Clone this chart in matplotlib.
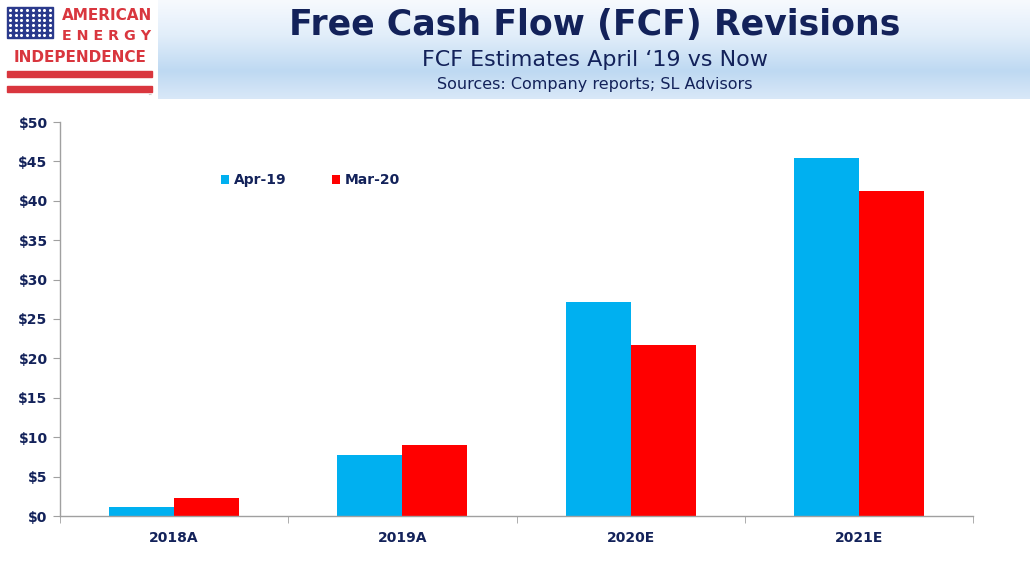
import numpy as np
import matplotlib
matplotlib.use("Agg")
import matplotlib.pyplot as plt
from matplotlib.patches import Rectangle
from matplotlib.colors import LinearSegmentedColormap

# ---- data ----
categories = ["2018A", "2019A", "2020E", "2021E"]
apr19 = [1.1, 7.75, 27.1, 45.4]
mar20 = [2.25, 9.0, 21.7, 41.2]
series_labels = ["Apr-19", "Mar-20"]
yticks = [0, 5, 10, 15, 20, 25, 30, 35, 40, 45, 50]
ytick_labels = ["$" + str(v) for v in yticks]
title = "Free Cash Flow (FCF) Revisions"
subtitle = "FCF Estimates April \u201819 vs Now"
sources = "Sources: Company reports; SL Advisors"

NAVY = "#13225a"
BLUE = "#00b0f0"
RED = "#ff0000"
LOGO_RED = "#d9363e"

W, H = 1030, 579
fig = plt.figure(figsize=(W / 100, H / 100), dpi=100)
fig.patch.set_facecolor("white")

# ---- header gradient band ----
hdr = fig.add_axes([0, 1 - 99 / H, 1, 99 / H])
hdr.set_axis_off()
cmap = LinearSegmentedColormap.from_list(
    "hdr", [(0.0, "#f7fafe"), (0.35, "#e2eefa"), (0.72, "#bed9f2"), (1.0, "#d9e8f8")])
grad = np.linspace(0, 1, 200).reshape(-1, 1)
hdr.imshow(grad, aspect="auto", cmap=cmap, extent=[0, 1, 0, 1], origin="upper")
hdr.set_xlim(0, 1)
hdr.set_ylim(0, 1)

# ---- logo ----
logo = fig.add_axes([0, 1 - 99 / H, 158 / W, 99 / H])
logo.set_xlim(0, 158)
logo.set_ylim(99, 0)
logo.set_axis_off()
logo.add_patch(Rectangle((0, 0), 158, 99, color="white", zorder=0))
logo.add_patch(Rectangle((7, 7), 46, 31, color="#2b3a8c", zorder=1))
sx, sy = np.meshgrid(np.linspace(10, 50, 8), np.linspace(10, 35, 6))
logo.scatter(sx.ravel(), sy.ravel(), s=1.5, color="white", zorder=2)
logo.text(107, 16, "AMERICAN", color=LOGO_RED, fontsize=11, ha="center",
          va="center", fontweight="bold")
logo.text(107, 36, "E N E R G Y", color=LOGO_RED, fontsize=10.3, ha="center",
          va="center", fontweight="bold")
logo.text(80, 57, "INDEPENDENCE", color=LOGO_RED, fontsize=11, ha="center",
          va="center", fontweight="bold")
logo.add_patch(Rectangle((7, 71), 145, 6, color=LOGO_RED, zorder=1))
logo.add_patch(Rectangle((7, 86), 145, 6, color=LOGO_RED, zorder=1))
logo.text(149, 96, "\u2122", color="#888888", fontsize=3, ha="center", va="center")

# ---- titles ----
fig.text(595 / W, 1 - 25 / H, title, ha="center", va="center", fontsize=25,
         fontweight="bold", color=NAVY)
fig.text(595 / W, 1 - 60 / H, subtitle, ha="center", va="center", fontsize=16,
         color=NAVY)
fig.text(595 / W, 1 - 84 / H, sources, ha="center", va="center", fontsize=11.5,
         color=NAVY)

# ---- chart ----
ax = fig.add_axes([60 / W, 1 - 516 / H, 913 / W, 394 / H])
x = np.arange(len(categories))
bw = 0.285
b1 = ax.bar(x - bw / 2, apr19, bw, color=BLUE, label=series_labels[0], zorder=2)
b2 = ax.bar(x + bw / 2, mar20, bw, color=RED, label=series_labels[1], zorder=2)

ax.set_xlim(-0.5, len(categories) - 0.5)
ax.set_ylim(0, 50)
ax.set_yticks(yticks)
ax.set_yticklabels(ytick_labels, fontsize=10, fontweight="bold", color=NAVY)
ax.set_xticks(x)
ax.set_xticklabels(categories, fontsize=10, fontweight="bold", color=NAVY)
ax.set_xticks(np.arange(-0.5, len(categories)), minor=True)
ax.tick_params(axis="x", which="major", length=0, pad=11)
ax.tick_params(axis="x", which="minor", length=5, color="#a0a0a0", direction="out")
ax.tick_params(axis="y", length=5, color="#a0a0a0", direction="out", pad=4)
for s in ["top", "right"]:
    ax.spines[s].set_visible(False)
for s in ["left", "bottom"]:
    ax.spines[s].set_color("#a0a0a0")
    ax.spines[s].set_linewidth(1.0)

leg = ax.legend(handles=[b1, b2], ncol=2, frameon=False, loc="center left",
                bbox_to_anchor=((214 - 60) / 913, (516 - 180) / 394),
                borderpad=0, handlelength=0.6, handleheight=0.6,
                handletextpad=0.3, columnspacing=3.3,
                prop={"size": 10, "weight": "bold"})
for t in leg.get_texts():
    t.set_color(NAVY)

fig.savefig("out.png", dpi=100)
